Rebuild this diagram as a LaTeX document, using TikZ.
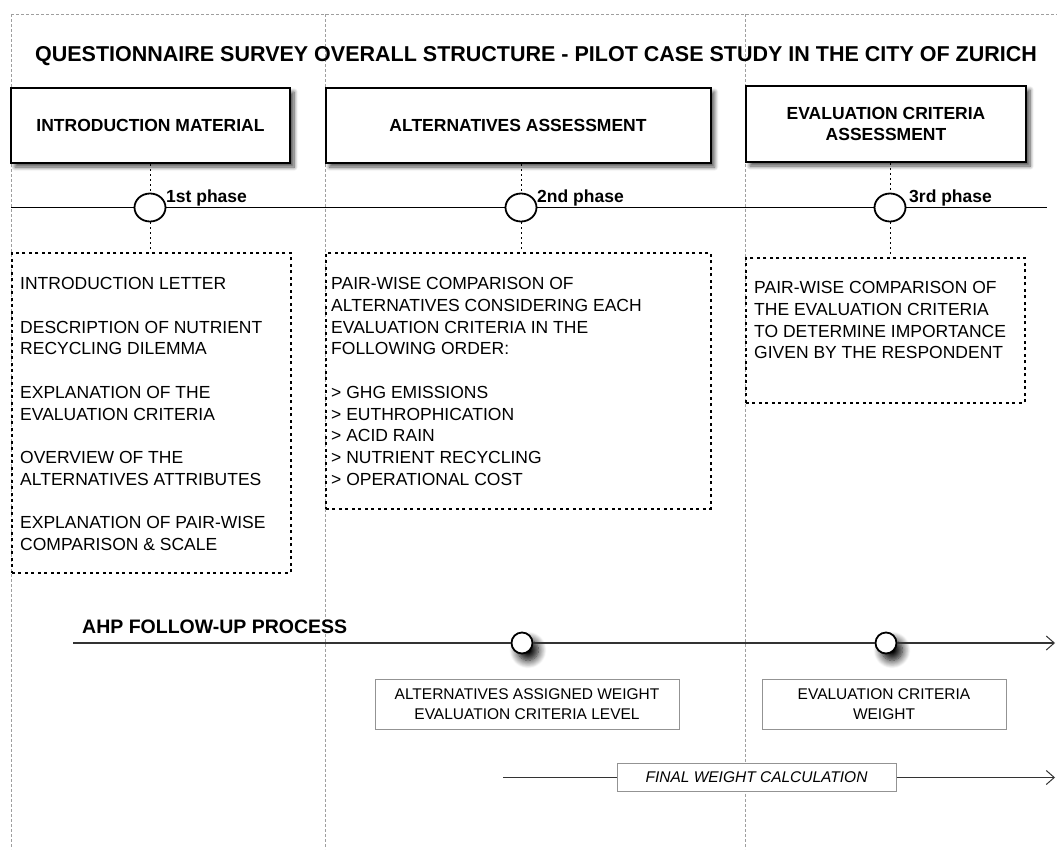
\documentclass[tikz,border=0pt]{standalone}
\usepackage{fontspec}
\setmainfont{Liberation Sans}
\usetikzlibrary{shapes.geometric,shadows.blur,arrows.meta}
\begin{document}
\begin{tikzpicture}[x=1pt,y=-1pt,
  guide/.style={draw=gray!75,line width=0.6pt,dash pattern=on 2.5pt off 2.5pt},
  headbox/.style={draw,line width=2pt,fill=white,inner sep=0pt,align=center,
    font=\fontsize{17.5}{21}\selectfont\bfseries,
    blur shadow={shadow xshift=4pt,shadow yshift=-4pt,shadow blur steps=8,shadow blur radius=4pt,shadow opacity=70}},
  notebox/.style={draw,line width=1.8pt,dash pattern=on 3pt off 3.5pt,inner sep=0pt},
  notetext/.style={anchor=north west,inner sep=0pt,align=left,font=\fontsize{17.5}{21.7}\selectfont},
  phasecirc/.style={ellipse,draw,line width=1.8pt,fill=white,minimum width=31pt,minimum height=28pt,inner sep=0pt},
  phaselabel/.style={anchor=base west,inner sep=0pt,font=\fontsize{17.5}{21}\selectfont\bfseries},
  link/.style={draw,line width=1pt,dash pattern=on 2pt off 3pt},
  ahpcirc/.style={circle,draw,line width=1.8pt,fill=white,minimum size=21pt,inner sep=0pt,
    blur shadow={shadow xshift=6pt,shadow yshift=-7pt,shadow blur steps=10,shadow blur radius=8pt,shadow opacity=100}},
  weightbox/.style={draw=gray!85,line width=1pt,fill=white,inner sep=0pt,align=center,
    font=\fontsize{15.5}{20}\selectfont},
  timeline/.style={draw,line width=1.6pt},
  ahpline/.style={draw=black!80,line width=1.1pt},
  tip/.style={-{Straight Barb[length=8pt,width=14pt,line width=1pt]}}
]
\useasboundingbox (0,0) rectangle (1057,849);
% guide lines
\coordinate (gtl) at (11,14);
\coordinate (gtr) at (1057,14);
\coordinate (gbl) at (11,849);
\coordinate (g2t) at (325,14);
\coordinate (g2b) at (325,849);
\coordinate (g3t) at (745,14);
\coordinate (g3b) at (745,849);
\draw[guide] (gtl) -- (gtr);
\draw[guide] (gtl) -- (gbl);
\draw[guide] (g2t) -- (g2b);
\draw[guide] (g3t) -- (g3b);

% title
\node[inner sep=0pt,anchor=base,font=\fontsize{21.5}{26}\selectfont\bfseries] (title) at (536,61)
  {QUESTIONNAIRE SURVEY OVERALL STRUCTURE - PILOT CASE STUDY IN THE CITY OF ZURICH};

% head boxes
\node[headbox,minimum width=279pt,minimum height=75pt] (h1) at (150.5,125.5) {INTRODUCTION MATERIAL};
\node[headbox,minimum width=385pt,minimum height=75pt] (h2) at (518,125.5) {ALTERNATIVES ASSESSMENT};
\node[headbox,minimum width=280pt,minimum height=76pt] (h3) at (886,124) {EVALUATION CRITERIA\\ASSESSMENT};

% phase timeline
\coordinate (tl) at (11,207.5);
\coordinate (tr) at (1047,207.5);
\draw[timeline] (tl) -- (tr);
\node[phasecirc] (c1) at (150,207.5) {};
\node[phasecirc] (c2) at (521,207.5) {};
\node[phasecirc] (c3) at (890,207.5) {};
\node[phaselabel] (l1) at (166,202) {1st phase};
\node[phaselabel] (l2) at (537,202) {2nd phase};
\node[phaselabel] (l3) at (909,202) {3rd phase};

% note boxes
\node[notebox,minimum width=279pt,minimum height=320pt,anchor=north west] (n1) at (11,252) {};
\node[notebox,minimum width=385pt,minimum height=256pt,anchor=north west] (n2) at (325,252) {};
\node[notebox,minimum width=279pt,minimum height=145pt,anchor=north west] (n3) at (745,257) {};

\node[notetext] (t1) at (20,277.4) {INTRODUCTION LETTER\\[21.7pt]DESCRIPTION OF NUTRIENT\\RECYCLING DILEMMA\\[21.7pt]EXPLANATION OF THE\\EVALUATION CRITERIA\\[21.7pt]OVERVIEW OF THE\\ALTERNATIVES ATTRIBUTES\\[21.7pt]EXPLANATION OF PAIR-WISE\\COMPARISON \& SCALE};
\node[notetext] (t2) at (331,277.4) {PAIR-WISE COMPARISON OF\\ALTERNATIVES CONSIDERING EACH\\EVALUATION CRITERIA IN THE\\FOLLOWING ORDER:\\[21.7pt]> GHG EMISSIONS\\> EUTHROPHICATION\\> ACID RAIN\\> NUTRIENT RECYCLING\\> OPERATIONAL COST};
\node[notetext] (t3) at (754,281.4) {PAIR-WISE COMPARISON OF\\THE EVALUATION CRITERIA\\TO DETERMINE IMPORTANCE\\GIVEN BY THE RESPONDENT};

% dotted links
\draw[link] (h1.south -| c1) -- (c1.north);
\draw[link] (c1.south) -- (n1.north -| c1);
\draw[link] (h2.south -| c2) -- (c2.north);
\draw[link] (c2.south) -- (n2.north -| c2);
\draw[link] (h3.south -| c3) -- (c3.north);
\draw[link] (c3.south) -- (n3.north -| c3);

% AHP follow-up
\node[inner sep=0pt,anchor=base west,font=\fontsize{19.5}{23}\selectfont\bfseries] (ahp) at (82,633) {AHP FOLLOW-UP PROCESS};
\coordinate (al) at (73,643);
\coordinate (ar) at (1055,643);
\node[ahpcirc] (a1) at (522,643) {};
\node[ahpcirc] (a2) at (886,643) {};
\draw[ahpline] (al) -- (a1.west);
\draw[ahpline] (a1.east) -- (a2.west);
\draw[ahpline,tip] (a2.east) -- (ar);

\node[weightbox,minimum width=304pt,minimum height=50pt] (w1) at (527,704) {ALTERNATIVES ASSIGNED WEIGHT\\EVALUATION CRITERIA LEVEL};
\node[weightbox,minimum width=244pt,minimum height=50pt] (w2) at (884,704) {EVALUATION CRITERIA\\WEIGHT};

\coordinate (fl) at (503,777.5);
\coordinate (fr) at (1055,777.5);
\node[weightbox,minimum width=279pt,minimum height=28pt,font=\fontsize{15.5}{20}\selectfont\itshape] (fw) at (756.5,777.5) {FINAL WEIGHT CALCULATION};
\draw[ahpline] (fl) -- (fw.west);
\draw[ahpline,tip] (fw.east) -- (fr);
\end{tikzpicture}
\end{document}
